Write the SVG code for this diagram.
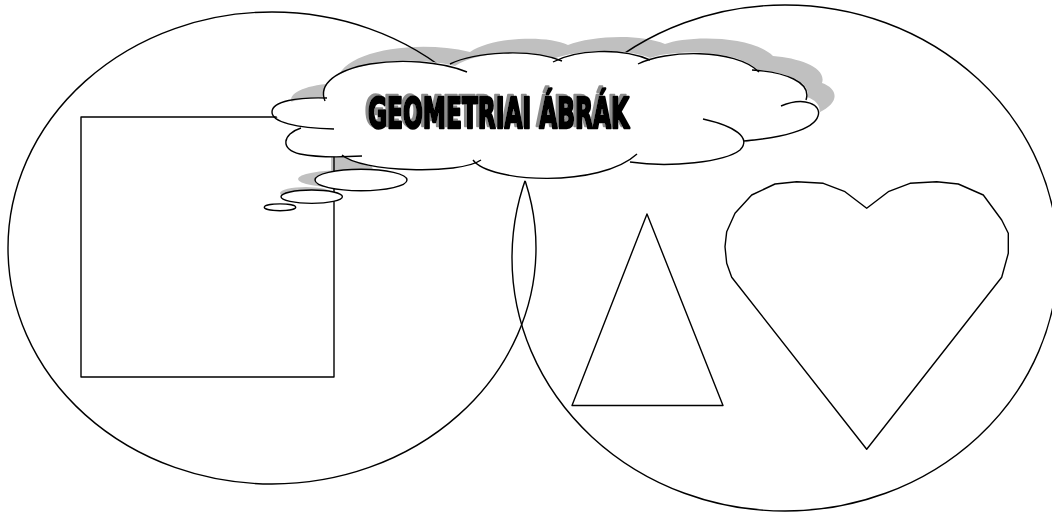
<svg xmlns="http://www.w3.org/2000/svg" width="1052" height="512" viewBox="0 0 1052 512">
<style>
.ln{fill:none;stroke:#000;stroke-width:1.4;stroke-linejoin:round}
.bub{fill:#fff;stroke:#000;stroke-width:1.4}
.sh{fill:#c0c0c0;stroke:none}
.ttl{font-family:"DejaVu Sans",sans-serif;font-weight:bold;font-stretch:condensed;font-size:43px;fill:#000;stroke:#000;stroke-width:2.6;stroke-linejoin:round}
</style>
<defs>
<path id="cloudShape" d="M300,128 C265,122 265,100 323,97 C320,68 395,52 455,66 C475,52 530,48 553,59 C575,50 625,47 650,58 C670,50 735,48 758,70 C785,72 812,82 807,97 C830,105 828,132 745,140 C755,160 690,168 633,160 C600,188 490,188 475,164 C450,175 365,172 343,156 C315,160 275,150 300,128 Z"/>
<filter id="txtShadow" x="-5%" y="-20%" width="110%" height="140%">
<feOffset in="SourceAlpha" dx="-3" dy="-2" result="off"/>
<feFlood flood-color="#8c8c8c"/>
<feComposite in2="off" operator="in" result="sh"/>
<feMerge><feMergeNode in="sh"/><feMergeNode in="SourceGraphic"/></feMerge>
</filter>
</defs>
<rect width="1052" height="512" fill="#fff"/>
<g id="shadow">
<use href="#cloudShape" class="sh" transform="translate(15,-14)"/>
<path class="sh" d="M331,152 L366,152 L374,172 L331,175 Z"/>
<ellipse class="sh" cx="346" cy="179" rx="48" ry="9"/>
<ellipse class="sh" cx="306" cy="193" rx="26" ry="6"/>
</g>
<g id="left-circle"><ellipse class="ln" cx="272" cy="248" rx="264" ry="236"/></g>
<g id="right-circle"><ellipse class="ln" cx="785" cy="258" rx="273" ry="253"/></g>
<g id="square"><rect class="ln" x="81" y="117" width="253" height="260"/></g>
<g id="triangle"><polygon class="ln" points="647,214 572,405.5 723,405.5"/></g>
<g id="heart"><polygon class="ln" points="866.7,208.3 845,191.7 823.3,183.3 796.7,181.7 775,184 751.7,195 735,213.3 726.7,231.7 725,246.7 726.7,263.3 731.7,277.3 866.7,449.3 1001.7,277.3 1008.3,253.3 1008.3,233.3 1001.7,220 983.3,195 958.3,184 936.7,181.7 910,183.3 888.3,191.7"/></g>
<g id="cloud">
<use href="#cloudShape" fill="#fff"/>
<path class="ln" d="M334,129 C295,128 272,122 272,112 C272,101 298,97 327,98"/>
<path class="ln" d="M325,101 C318,84 336,70 370,64 C400,59 440,61 467,72"/>
<path class="ln" d="M450,64 C475,52 530,48 562,61"/>
<path class="ln" d="M553,62 C575,50 620,47 650,60"/>
<path class="ln" d="M638,64 C665,50 735,48 759,72"/>
<path class="ln" d="M752,70 C785,72 812,82 806,100"/>
<path class="ln" d="M781,106 C805,96 822,105 818,116 C814,130 780,138 744,141"/>
<path class="ln" d="M703,119 C735,126 752,138 740,150 C725,162 670,168 630,162"/>
<path class="ln" d="M473,160 C490,183 600,188 637,154"/>
<path class="ln" d="M342,155 C360,172 460,175 481,160"/>
<path class="ln" d="M301,128 C282,134 280,150 300,154 C320,158 345,157 362,156"/>
</g>
<g id="thought-bubbles">
<ellipse class="bub" cx="361" cy="180" rx="46" ry="10.7"/>
<ellipse class="bub" cx="311.7" cy="196.7" rx="30.7" ry="6.7"/>
<ellipse class="bub" cx="280" cy="207.3" rx="15.7" ry="3.4"/>
</g>
<g id="title" filter="url(#txtShadow)">
<text class="ttl" x="368" y="127.5" textLength="261" lengthAdjust="spacingAndGlyphs">GEOMETRIAI ÁBRÁK</text>
</g>
</svg>
